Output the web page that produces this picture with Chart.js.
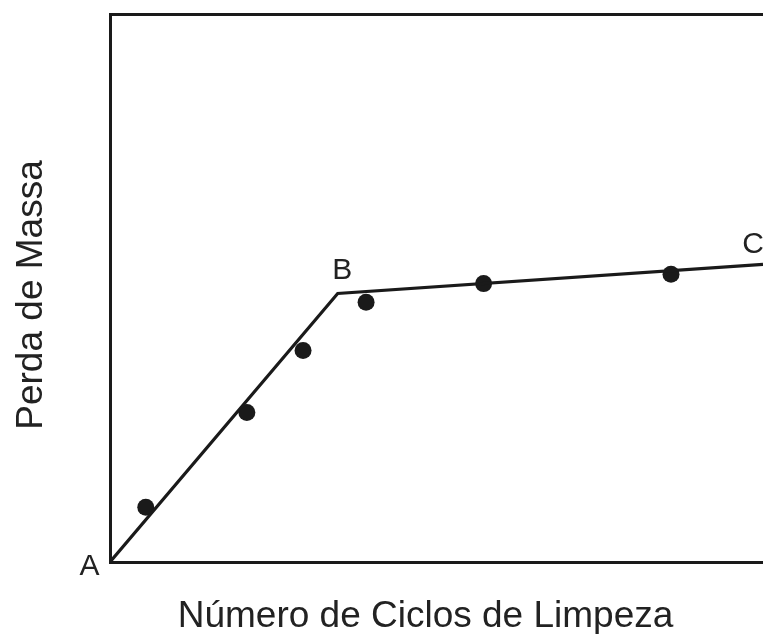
<!DOCTYPE html>
<html>
<head>
<meta charset="utf-8">
<title>Perda de Massa</title>
<script src="https://cdn.jsdelivr.net/npm/chart.js@4.4.1/dist/chart.umd.min.js"></script>
<style>
    html, body { margin: 0; padding: 0; background: #fff; overflow: hidden; }
    canvas { display: block; }
</style>
</head>
<body>
<canvas id="massChart" width="763" height="634"></canvas>
<script>
// Stages of mass loss: A -> B (fast), B -> C (slow)
const stageCycles = [0, 4.01, 11.5];
const stageLoss = [0, 4.90, 5.43];
const stageLabels = ['A', 'B', 'C'];

// Measured points
const measuredCycles = [0.63, 2.41, 3.40, 4.51, 6.58, 9.88];
const measuredLoss = [1.00, 2.73, 3.86, 4.74, 5.08, 5.25];

const xTitle = 'Número de Ciclos de Limpeza';
const yTitle = 'Perda de Massa';

const ink = '#1a1a1a';
const textColor = '#222222';
const fontFamily = '"Liberation Sans", Arial, Helvetica, sans-serif';

const toPoints = (xs, ys) => xs.map((x, i) => ({ x: x, y: ys[i] }));

// Stage letters and axis titles
const labelsPlugin = {
    id: 'stageLabels',
    afterDraw(chart) {
        const { ctx, chartArea, scales } = chart;
        const offsets = [[-20.5, 13], [4.5, -14], [-10, -11]];
        ctx.save();
        ctx.fillStyle = textColor;
        ctx.textAlign = 'center';
        ctx.textBaseline = 'alphabetic';
        ctx.font = `30px ${fontFamily}`;
        stageLabels.forEach((label, i) => {
            const px = scales.x.getPixelForValue(stageCycles[i]);
            const py = scales.y.getPixelForValue(stageLoss[i]);
            ctx.fillText(label, px + offsets[i][0], py + offsets[i][1]);
        });

        ctx.font = `37px ${fontFamily}`;
        ctx.fillText(xTitle, chartArea.left + 315.5, chartArea.bottom + 65);

        ctx.translate(chartArea.left - 68, chartArea.top + 281);
        ctx.rotate(-Math.PI / 2);
        ctx.fillText(yTitle, 0, 0);
        ctx.restore();
    }
};

const ctx = document.getElementById('massChart').getContext('2d');
new Chart(ctx, {
    type: 'scatter',
    data: {
        datasets: [{
            label: 'Tendência',
            data: toPoints(stageCycles, stageLoss),
            showLine: true,
            borderColor: ink,
            borderWidth: 3.2,
            borderJoinStyle: 'miter',
            pointRadius: 0,
            tension: 0,
            fill: false
        }, {
            label: 'Medições',
            data: toPoints(measuredCycles, measuredLoss),
            showLine: false,
            backgroundColor: ink,
            borderColor: ink,
            borderWidth: 0,
            pointRadius: 8.5,
            pointHoverRadius: 8.5
        }]
    },
    options: {
        responsive: false,
        animation: false,
        layout: { padding: 0, autoPadding: false },
        plugins: {
            legend: { display: false },
            tooltip: { enabled: false }
        },
        scales: {
            x: {
                type: 'linear',
                position: 'bottom',
                min: 0,
                max: 11.5,
                ticks: { display: false },
                grid: { display: false },
                border: { display: true, color: ink, width: 3 },
                afterFit: (scale) => { scale.height = 72; }
            },
            top: {
                type: 'linear',
                position: 'top',
                min: 0,
                max: 11.5,
                ticks: { display: false },
                grid: { display: false },
                border: { display: true, color: ink, width: 3 },
                afterFit: (scale) => { scale.height = 14; }
            },
            y: {
                type: 'linear',
                position: 'left',
                min: 0,
                max: 10,
                ticks: { display: false },
                grid: { display: false },
                border: { display: true, color: ink, width: 3 },
                afterFit: (scale) => { scale.width = 110; }
            }
        }
    },
    plugins: [labelsPlugin]
});
</script>
</body>
</html>
